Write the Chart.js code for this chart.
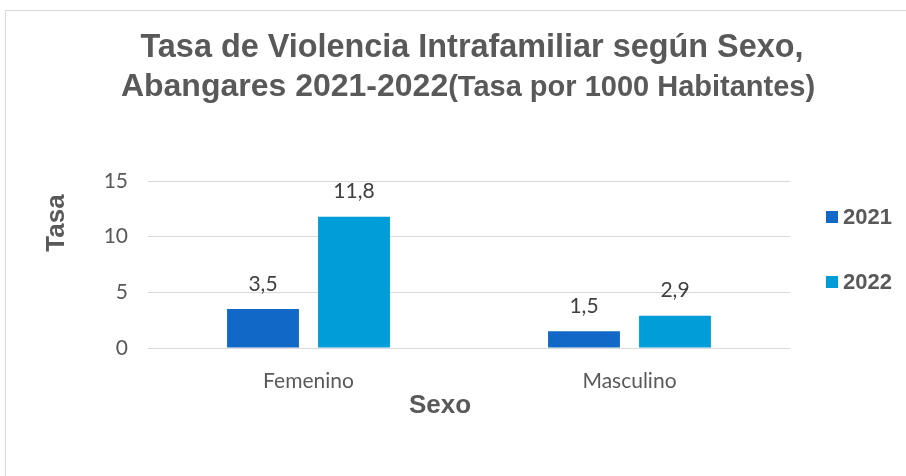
<!DOCTYPE html>
<html>
<head>
<meta charset="utf-8">
<script src="https://cdn.jsdelivr.net/npm/chart.js@4.4.0/dist/chart.umd.min.js"></script>
<style>
  html, body { margin: 0; padding: 0; background: #fff; overflow: hidden; }
  #frame { position: absolute; left: 5px; top: 10px; width: 920px; height: 480px; border: 1px solid #d9d9d9; }
  #chart { position: absolute; left: 0; top: 0; }
</style>
</head>
<body>
<div id="frame"></div>
<canvas id="chart" width="906" height="476"></canvas>
<script>
// Data
const categories = ['Femenino', 'Masculino'];
const years = ['2021', '2022'];
const values2021 = [3.5, 1.5];
const values2022 = [11.8, 2.9];
const yTicks = [0, 5, 10, 15];

const titleLine1 = 'Tasa de Violencia Intrafamiliar según Sexo,';
const titleLine2a = 'Abangares 2021-2022';
const titleLine2b = '(Tasa por 1000 Habitantes)';
const xTitle = 'Sexo';
const yTitle = 'Tasa';

const colors = ['#1268c6', '#009dd9'];
const grey = '#595959';
const boldFont = '"Liberation Sans", Arial, sans-serif';
const bodyFont = 'Lato, "Open Sans", sans-serif';

// Chart title (two lines, smaller second half on line 2) and axis titles
const titlePlugin = {
    id: 'titleLines',
    afterDraw(chart) {
        const ctx = chart.ctx;
        ctx.save();
        ctx.fillStyle = grey;
        ctx.textBaseline = 'alphabetic';
        ctx.textAlign = 'center';
        ctx.font = 'bold 32.4px ' + boldFont;
        ctx.fillText(titleLine1, 472, 57);

        const fa = 'bold 32px ' + boldFont;
        const fb = 'bold 29px ' + boldFont;
        ctx.font = fa;
        const wa = ctx.measureText(titleLine2a).width;
        ctx.font = fb;
        const wb = ctx.measureText(titleLine2b).width;
        const x = 468 - (wa + wb) / 2;
        ctx.textAlign = 'left';
        ctx.font = fa;
        ctx.fillText(titleLine2a, x, 96);
        ctx.font = fb;
        ctx.fillText(titleLine2b, x + wa, 96);

        // axis titles
        ctx.font = 'bold 26px ' + boldFont;
        ctx.textAlign = 'center';
        ctx.fillText(xTitle, 440, 413);
        ctx.translate(64, 223);
        ctx.rotate(-Math.PI / 2);
        ctx.fillText(yTitle, 0, 0);
        ctx.restore();
    }
};

// Values above the bars, with decimal comma
const valueLabels = {
    id: 'valueLabels',
    afterDatasetsDraw(chart) {
        const ctx = chart.ctx;
        ctx.save();
        ctx.fillStyle = '#404040';
        ctx.font = '21px ' + bodyFont;
        ctx.textAlign = 'center';
        ctx.textBaseline = 'middle';
        chart.data.datasets.forEach((ds, i) => {
            chart.getDatasetMeta(i).data.forEach((bar, j) => {
                const txt = ds.data[j].toFixed(1).replace('.', ',');
                ctx.fillText(txt, bar.x, bar.y - 25);
            });
        });
        ctx.restore();
    }
};

// Vertical legend on the right side
const sideLegend = {
    id: 'sideLegend',
    afterDraw(chart) {
        const { ctx, chartArea } = chart;
        const x = chartArea.right + 36;
        ctx.save();
        chart.data.datasets.forEach((ds, i) => {
            const y = chartArea.top + 36 + i * 65;
            ctx.fillStyle = ds.backgroundColor;
            ctx.fillRect(x, y - 6, 12, 12);
            ctx.fillStyle = grey;
            ctx.font = 'bold 22px ' + boldFont;
            ctx.textAlign = 'left';
            ctx.textBaseline = 'middle';
            ctx.fillText(ds.label, x + 17, y + 1);
        });
        ctx.restore();
    }
};

new Chart(document.getElementById('chart'), {
    type: 'bar',
    data: {
        labels: categories,
        datasets: [
            { label: years[0], data: values2021, backgroundColor: colors[0] },
            { label: years[1], data: values2022, backgroundColor: colors[1] }
        ]
    },
    options: {
        responsive: false,
        animation: false,
        categoryPercentage: 0.567,
        barPercentage: 0.79,
        layout: { padding: { left: 45, top: 181, right: 116, bottom: 56 } },
        plugins: {
            legend: { display: false },
            title: { display: false },
            tooltip: { enabled: false }
        },
        scales: {
            x: {
                afterFit: s => { s.height = 72; },
                grid: { display: false },
                border: { display: false },
                ticks: { color: grey, font: { family: bodyFont, size: 21 }, padding: 13, maxRotation: 0 }
            },
            y: {
                min: 0,
                max: 15,
                afterBuildTicks: s => { s.ticks = yTicks.map(v => ({ value: v })); },
                afterFit: s => { s.width = 103; },
                grid: { color: '#d9d9d9', drawTicks: false },
                border: { display: false },
                ticks: { color: grey, font: { family: bodyFont, size: 21 }, padding: 20 }
            }
        }
    },
    plugins: [titlePlugin, valueLabels, sideLegend]
});
</script>
</body>
</html>
